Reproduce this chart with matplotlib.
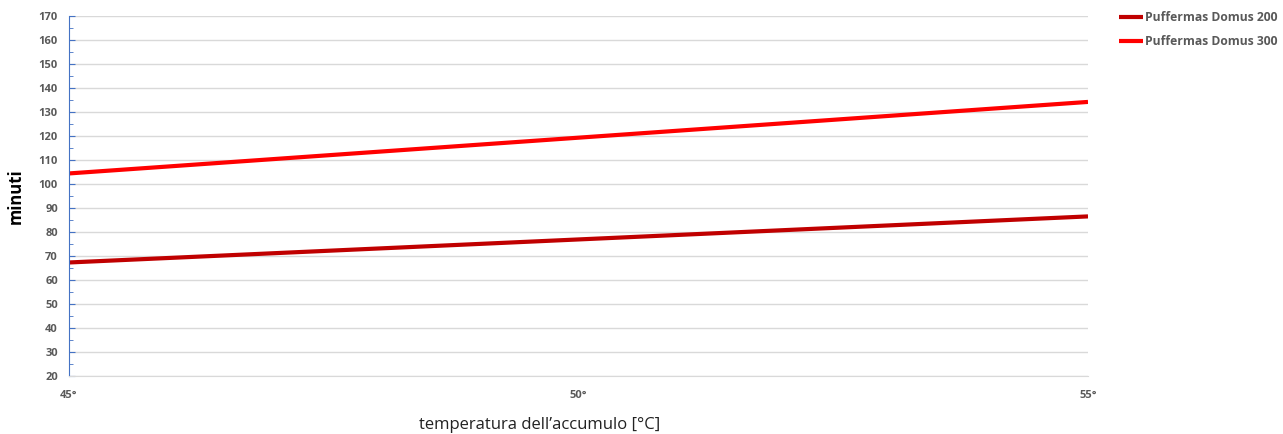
import matplotlib
matplotlib.use('Agg')
import matplotlib.pyplot as plt
from matplotlib.ticker import MultipleLocator

# data
temps = [45, 50, 55]
domus_200 = [67.3, 76.9, 86.5]
domus_300 = [104.4, 119.3, 134.2]
series_names = ['Puffermas Domus 200', 'Puffermas Domus 300']
x_labels = ['45°', '50°', '55°']

grey = '#595959'
plt.rcParams['font.family'] = ['Open Sans', 'DejaVu Sans']

fig = plt.figure(figsize=(12.83, 4.34), dpi=100)
ax = fig.add_axes([69/1283, 1-376/434, (1088-69)/1283, (376-16)/434])

ax.plot(temps, domus_200, color='#C00000', lw=3, label=series_names[0], solid_capstyle='butt')
ax.plot(temps, domus_300, color='#FF0000', lw=3, label=series_names[1], solid_capstyle='butt')

ax.set_xlim(45, 55)
ax.set_ylim(20, 170)
ax.set_xticks(temps)
ax.set_xticklabels(x_labels)
ax.yaxis.set_major_locator(MultipleLocator(10))
ax.yaxis.set_minor_locator(MultipleLocator(5))
ax.grid(axis='y', color='#D9D9D9', lw=1)
ax.set_axisbelow(True)

for s in ['top', 'right']:
    ax.spines[s].set_visible(False)
ax.spines['left'].set_color('#4472C4')
ax.spines['bottom'].set_color('#D9D9D9')

ax.tick_params(axis='y', which='major', direction='in', length=4, color='#4472C4',
               labelsize=8, labelcolor=grey, pad=8)
ax.tick_params(axis='y', which='minor', direction='in', length=3, color='#4472C4')
ax.tick_params(axis='x', length=0, labelsize=8, labelcolor=grey, pad=10)
for t in ax.get_xticklabels() + ax.get_yticklabels():
    t.set_fontweight('bold')

ax.set_ylabel('minuti', fontsize=12, fontweight='bold', labelpad=10)
fig.text(540/1283, 1-425/434, "temperatura dell\u2019accumulo [°C]", fontsize=12,
         ha='center', va='center', color='#222222')

fig.legend(loc='upper left', bbox_to_anchor=(1108/1283, 1-0/434), frameon=False,
           handlelength=2.0, handletextpad=0.2, labelspacing=0.9,
           prop={'size': 8.7, 'weight': 'bold'}, labelcolor=grey)

fig.savefig('out.png', dpi=100)
